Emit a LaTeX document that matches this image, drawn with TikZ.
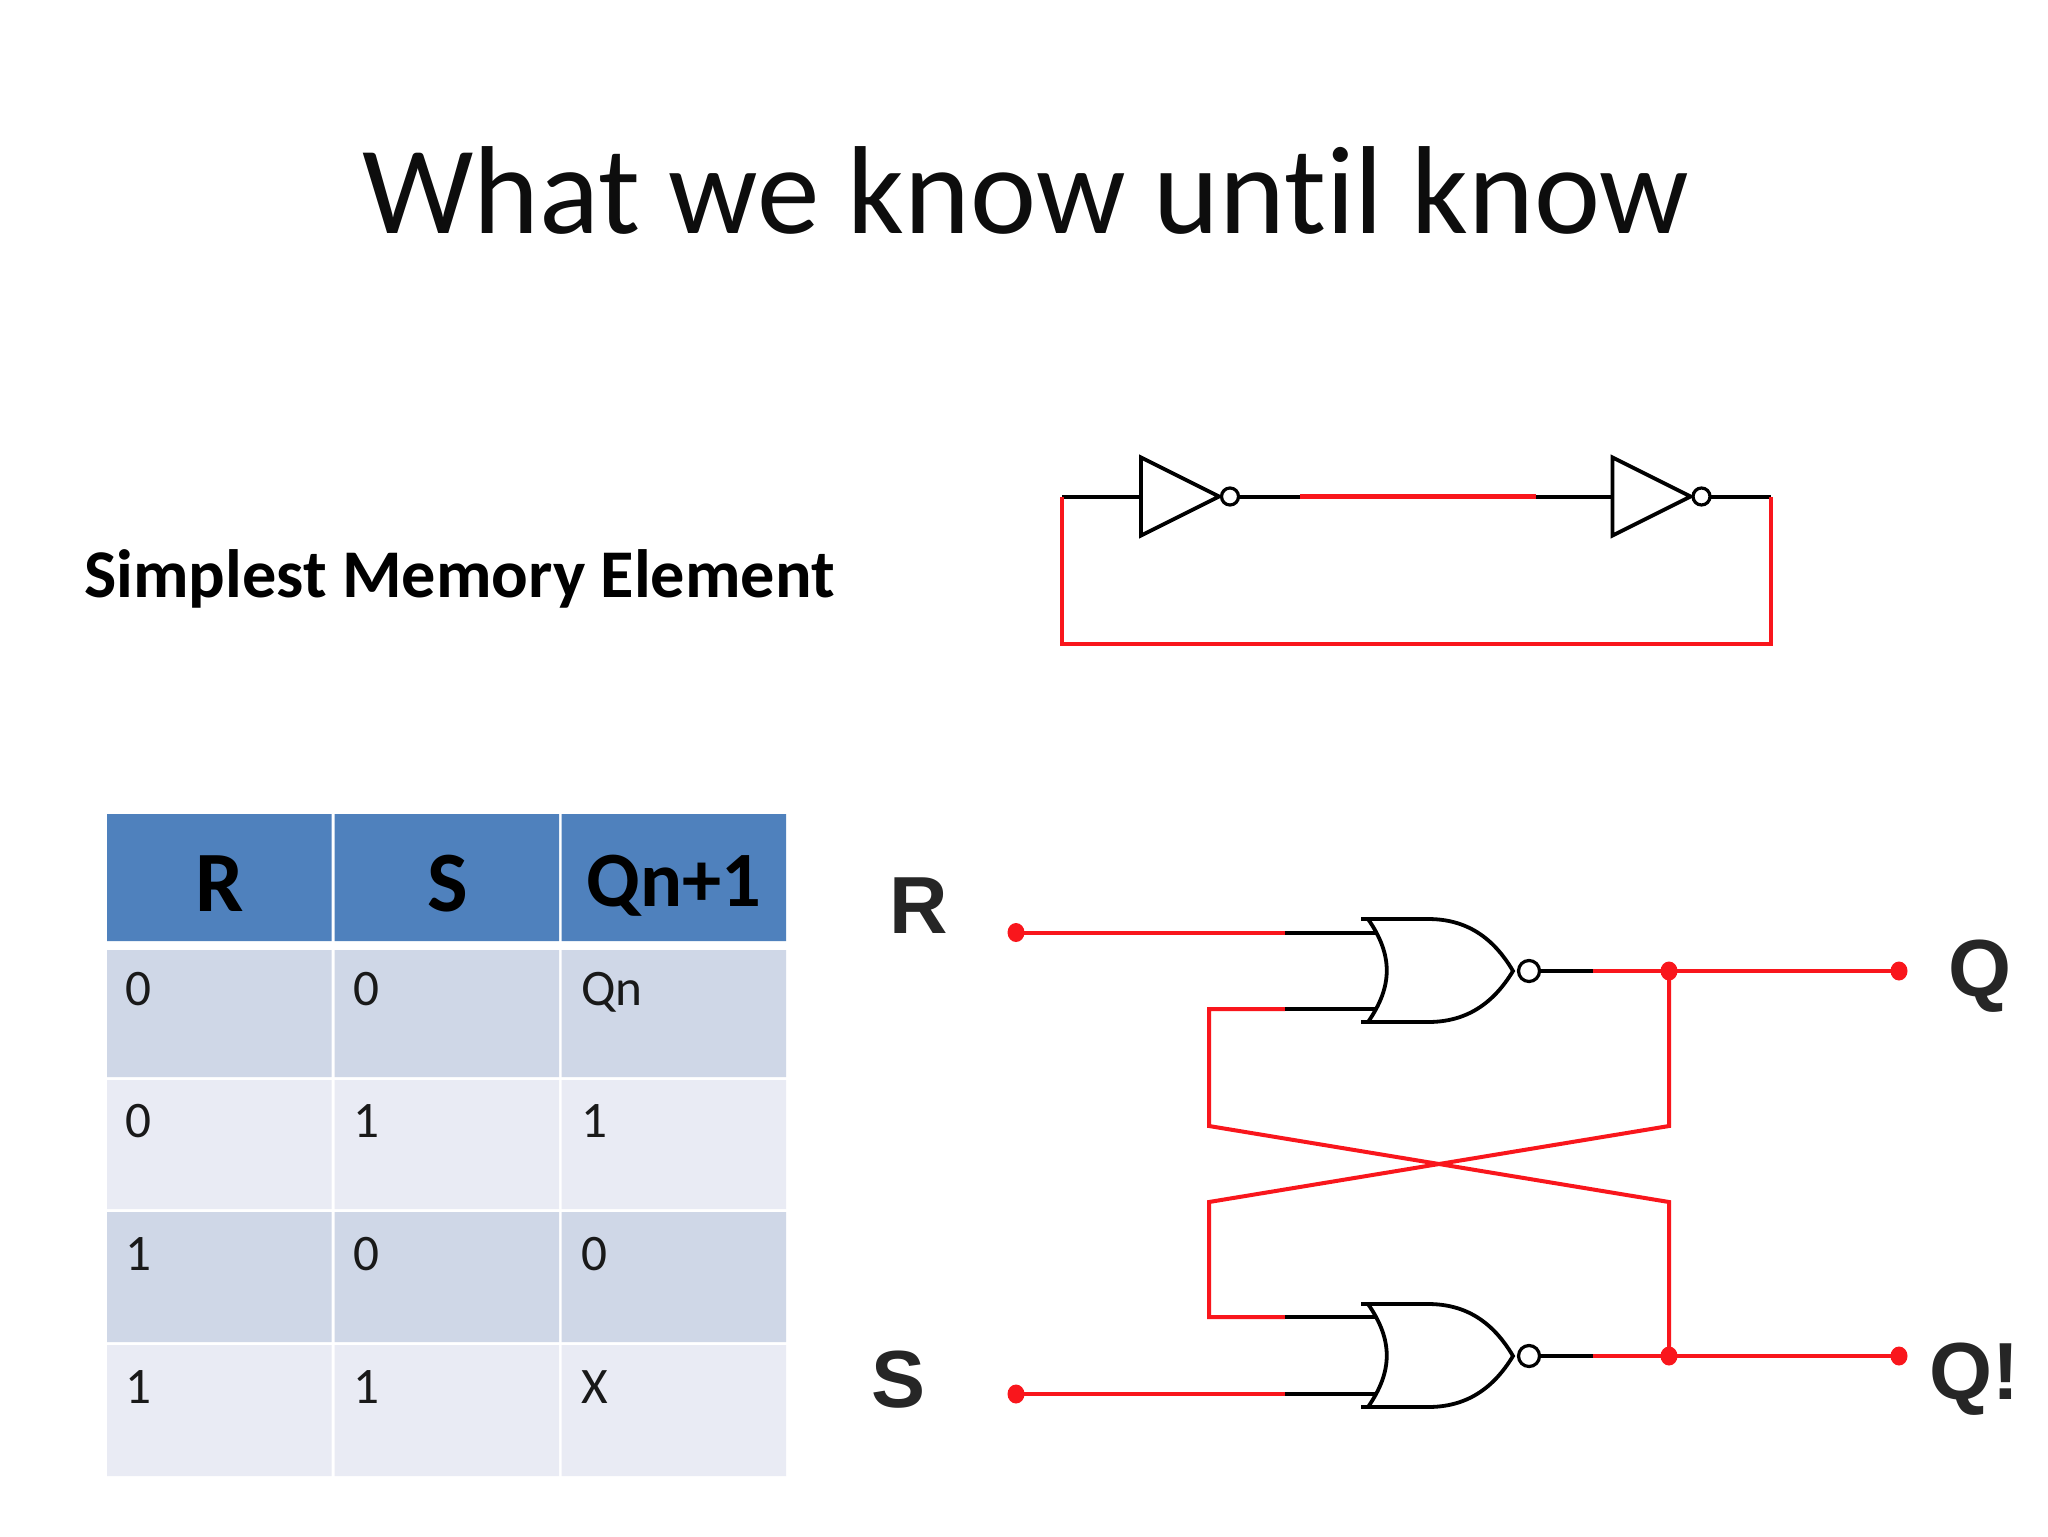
\documentclass[tikz,border=0pt]{standalone}
\usepackage{fontspec}
\usetikzlibrary{shapes.geometric}
\setmainfont[Ligatures=NoCommon]{Carlito}
\newfontfamily\arialfont{Liberation Sans}
\definecolor{hdr}{HTML}{4F81BD}
\definecolor{bandA}{HTML}{CFD7E7}
\definecolor{bandB}{HTML}{E9EBF4}
\definecolor{wirered}{HTML}{F9161C}
\begin{document}
\begin{tikzpicture}[x=0.5pt,y=-0.5pt,
  blackwire/.style={draw=black,line width=2pt},
  redwire/.style={draw=wirered,line width=2pt,line join=miter},
  thinred/.style={draw=wirered,line width=1.6pt,line join=miter},
  gateline/.style={draw=black,line width=1.9pt,line join=miter,fill=white},
  dot/.style={fill=wirered,draw=none,ellipse,minimum width=8.5pt,minimum height=9.5pt,inner sep=0pt},
  title/.style={font=\fontsize{62.6}{70}\selectfont,text=black!95},
  boldlabel/.style={font=\fontsize{34.15}{38}\selectfont\bfseries},
  headtxt/.style={font=\fontsize{43}{48}\selectfont\bfseries},
  headwide/.style={font=\fontsize{39.2}{48}\selectfont\bfseries},
  celltxt/.style={font=\fontsize{25.6}{30}\selectfont,anchor=base west,inner sep=0pt,text=black!90},
  pinlabel/.style={font=\arialfont\fontsize{40.5}{46}\selectfont\bfseries,text=black!85},
  notgate/.pic={
    \draw[gateline] (0,-39) -- (78,0) -- (0,39) -- cycle;
    \draw[gateline,line width=1.6pt] (89,0) circle[radius=8.5];
  },
  norgate/.pic={
    \draw[gateline] (0,0) -- (7,0) .. controls (32,36) and (32,67) .. (7,103) -- (0,103)
      -- (67,103) .. controls (105,103) and (132,85) .. (152,52)
      .. controls (132,18) and (105,0) .. (67,0) -- (7,0);
    \draw[gateline,line width=1.6pt] (168,52) circle[radius=10.5];
  }]
\useasboundingbox (0,0) rectangle (2048,1536);
\fill[white] (0,0) rectangle (2048,1536);

% texts
\node[title] (ttl) at (1026,190) {What we know until know};
\node[boldlabel] (lbl) at (459.5,579) {Simplest Memory Element};

% table cells
\fill[hdr] (107,814) rectangle (331.5,941) (334.5,814) rectangle (559,941) (561.5,814) rectangle (786,941);
\fill[bandA] (107,950) rectangle (331.5,1077) (334.5,950) rectangle (559,1077) (561.5,950) rectangle (786,1077);
\fill[bandB] (107,1080) rectangle (331.5,1209) (334.5,1080) rectangle (559,1209) (561.5,1080) rectangle (786,1209);
\fill[bandA] (107,1212) rectangle (331.5,1342) (334.5,1212) rectangle (559,1342) (561.5,1212) rectangle (786,1342);
\fill[bandB] (107,1345) rectangle (331.5,1476) (334.5,1345) rectangle (559,1476) (561.5,1345) rectangle (786,1476);
\node[headtxt] (hR) at (220,884) {R};
\node[headtxt] (hS) at (447.5,884) {S};
\node[headwide] (hQ) at (674,886) {Qn+1};
\node[celltxt] (c11) at (125.5,1005) {0};
\node[celltxt] (c12) at (353.5,1005) {0};
\node[celltxt] (c13) at (581,1005) {Qn};
\node[celltxt] (c21) at (125.5,1137) {0};
\node[celltxt] (c22) at (353.5,1137) {1};
\node[celltxt] (c23) at (581,1137) {1};
\node[celltxt] (c31) at (125.5,1270) {1};
\node[celltxt] (c32) at (353.5,1270) {0};
\node[celltxt] (c33) at (581,1270) {0};
\node[celltxt] (c41) at (125.5,1403) {1};
\node[celltxt] (c42) at (353.5,1403) {1};
\node[celltxt] (c43) at (581,1403) {X};

% inverter loop
\coordinate (aL) at (1062,496.5);
\coordinate (aIn) at (1141,496.5);
\coordinate (aOut) at (1238,496.5);
\coordinate (aR1) at (1300,496.5);
\coordinate (aR2) at (1536,496.5);
\coordinate (bIn) at (1612.5,496.5);
\coordinate (bOut) at (1709,496.5);
\coordinate (aRt) at (1771,496.5);
\coordinate (aBR) at (1771,644);
\coordinate (aBL) at (1062,644);
\draw[blackwire] (aL) -- (aIn);
\draw[blackwire] (aOut) -- (aR1);
\draw[redwire,line width=2.2pt] (aR1) -- (aR2);
\draw[blackwire] (aR2) -- (bIn);
\draw[blackwire] (bOut) -- (aRt);
\draw[thinred] (aL) -- (aBL) -- (aBR) -- (aRt);
\draw[redwire,line width=2.2pt] (aBL) -- (aBR);
\pic at (1141,496.5) {notgate};
\pic at (1612.5,496.5) {notgate};

% NOR latch
\coordinate (rIn) at (1016,932.5);
\coordinate (rK) at (1285,932.5);
\coordinate (g1a) at (1376,932.5);
\coordinate (fb1) at (1285,1009);
\coordinate (g1b) at (1376,1009);
\coordinate (l1) at (1209,1009);
\coordinate (l2) at (1209,1126);
\coordinate (r1) at (1669,1126);
\coordinate (r2) at (1669,1202);
\coordinate (l3) at (1209,1202);
\coordinate (l4) at (1209,1317);
\coordinate (fb2) at (1285,1317);
\coordinate (g2a) at (1376,1317);
\coordinate (sIn) at (1016,1394);
\coordinate (sK) at (1285,1394);
\coordinate (g2b) at (1376,1394);
\coordinate (o1) at (1540,971);
\coordinate (o1k) at (1593,971);
\coordinate (j1) at (1669,971);
\coordinate (q1) at (1899,971);
\coordinate (o2) at (1540,1356);
\coordinate (o2k) at (1593,1356);
\coordinate (j2) at (1669,1356);
\coordinate (q2) at (1899,1356);

\draw[redwire] (rIn) -- (rK);
\draw[blackwire] (rK) -- (g1a);
\draw[redwire] (fb1) -- (l1) -- (l2) -- (r2) -- (j2);
\draw[blackwire] (fb1) -- (g1b);
\draw[redwire] (j1) -- (r1) -- (l3) -- (l4) -- (fb2);
\draw[blackwire] (fb2) -- (g2a);
\draw[redwire] (sIn) -- (sK);
\draw[blackwire] (sK) -- (g2b);
\draw[blackwire] (o1) -- (o1k);
\draw[redwire] (o1k) -- (q1);
\draw[blackwire] (o2) -- (o2k);
\draw[redwire] (o2k) -- (q2);
\pic at (1361,919) {norgate};
\pic at (1361,1304) {norgate};
\node[dot] (dR) at (rIn) {};
\node[dot] (dS) at (sIn) {};
\node[dot] (dJ1) at (j1) {};
\node[dot] (dJ2) at (j2) {};
\node[dot] (dQ) at (q1) {};
\node[dot] (dQb) at (q2) {};

\node[pinlabel] (pR) at (919,906) {R};
\node[pinlabel] (pS) at (898,1380) {S};
\node[pinlabel] (pQ) at (1980,976) {Q};
\node[pinlabel] (pQb) at (1974,1379) {Q!};
\end{tikzpicture}
\end{document}
